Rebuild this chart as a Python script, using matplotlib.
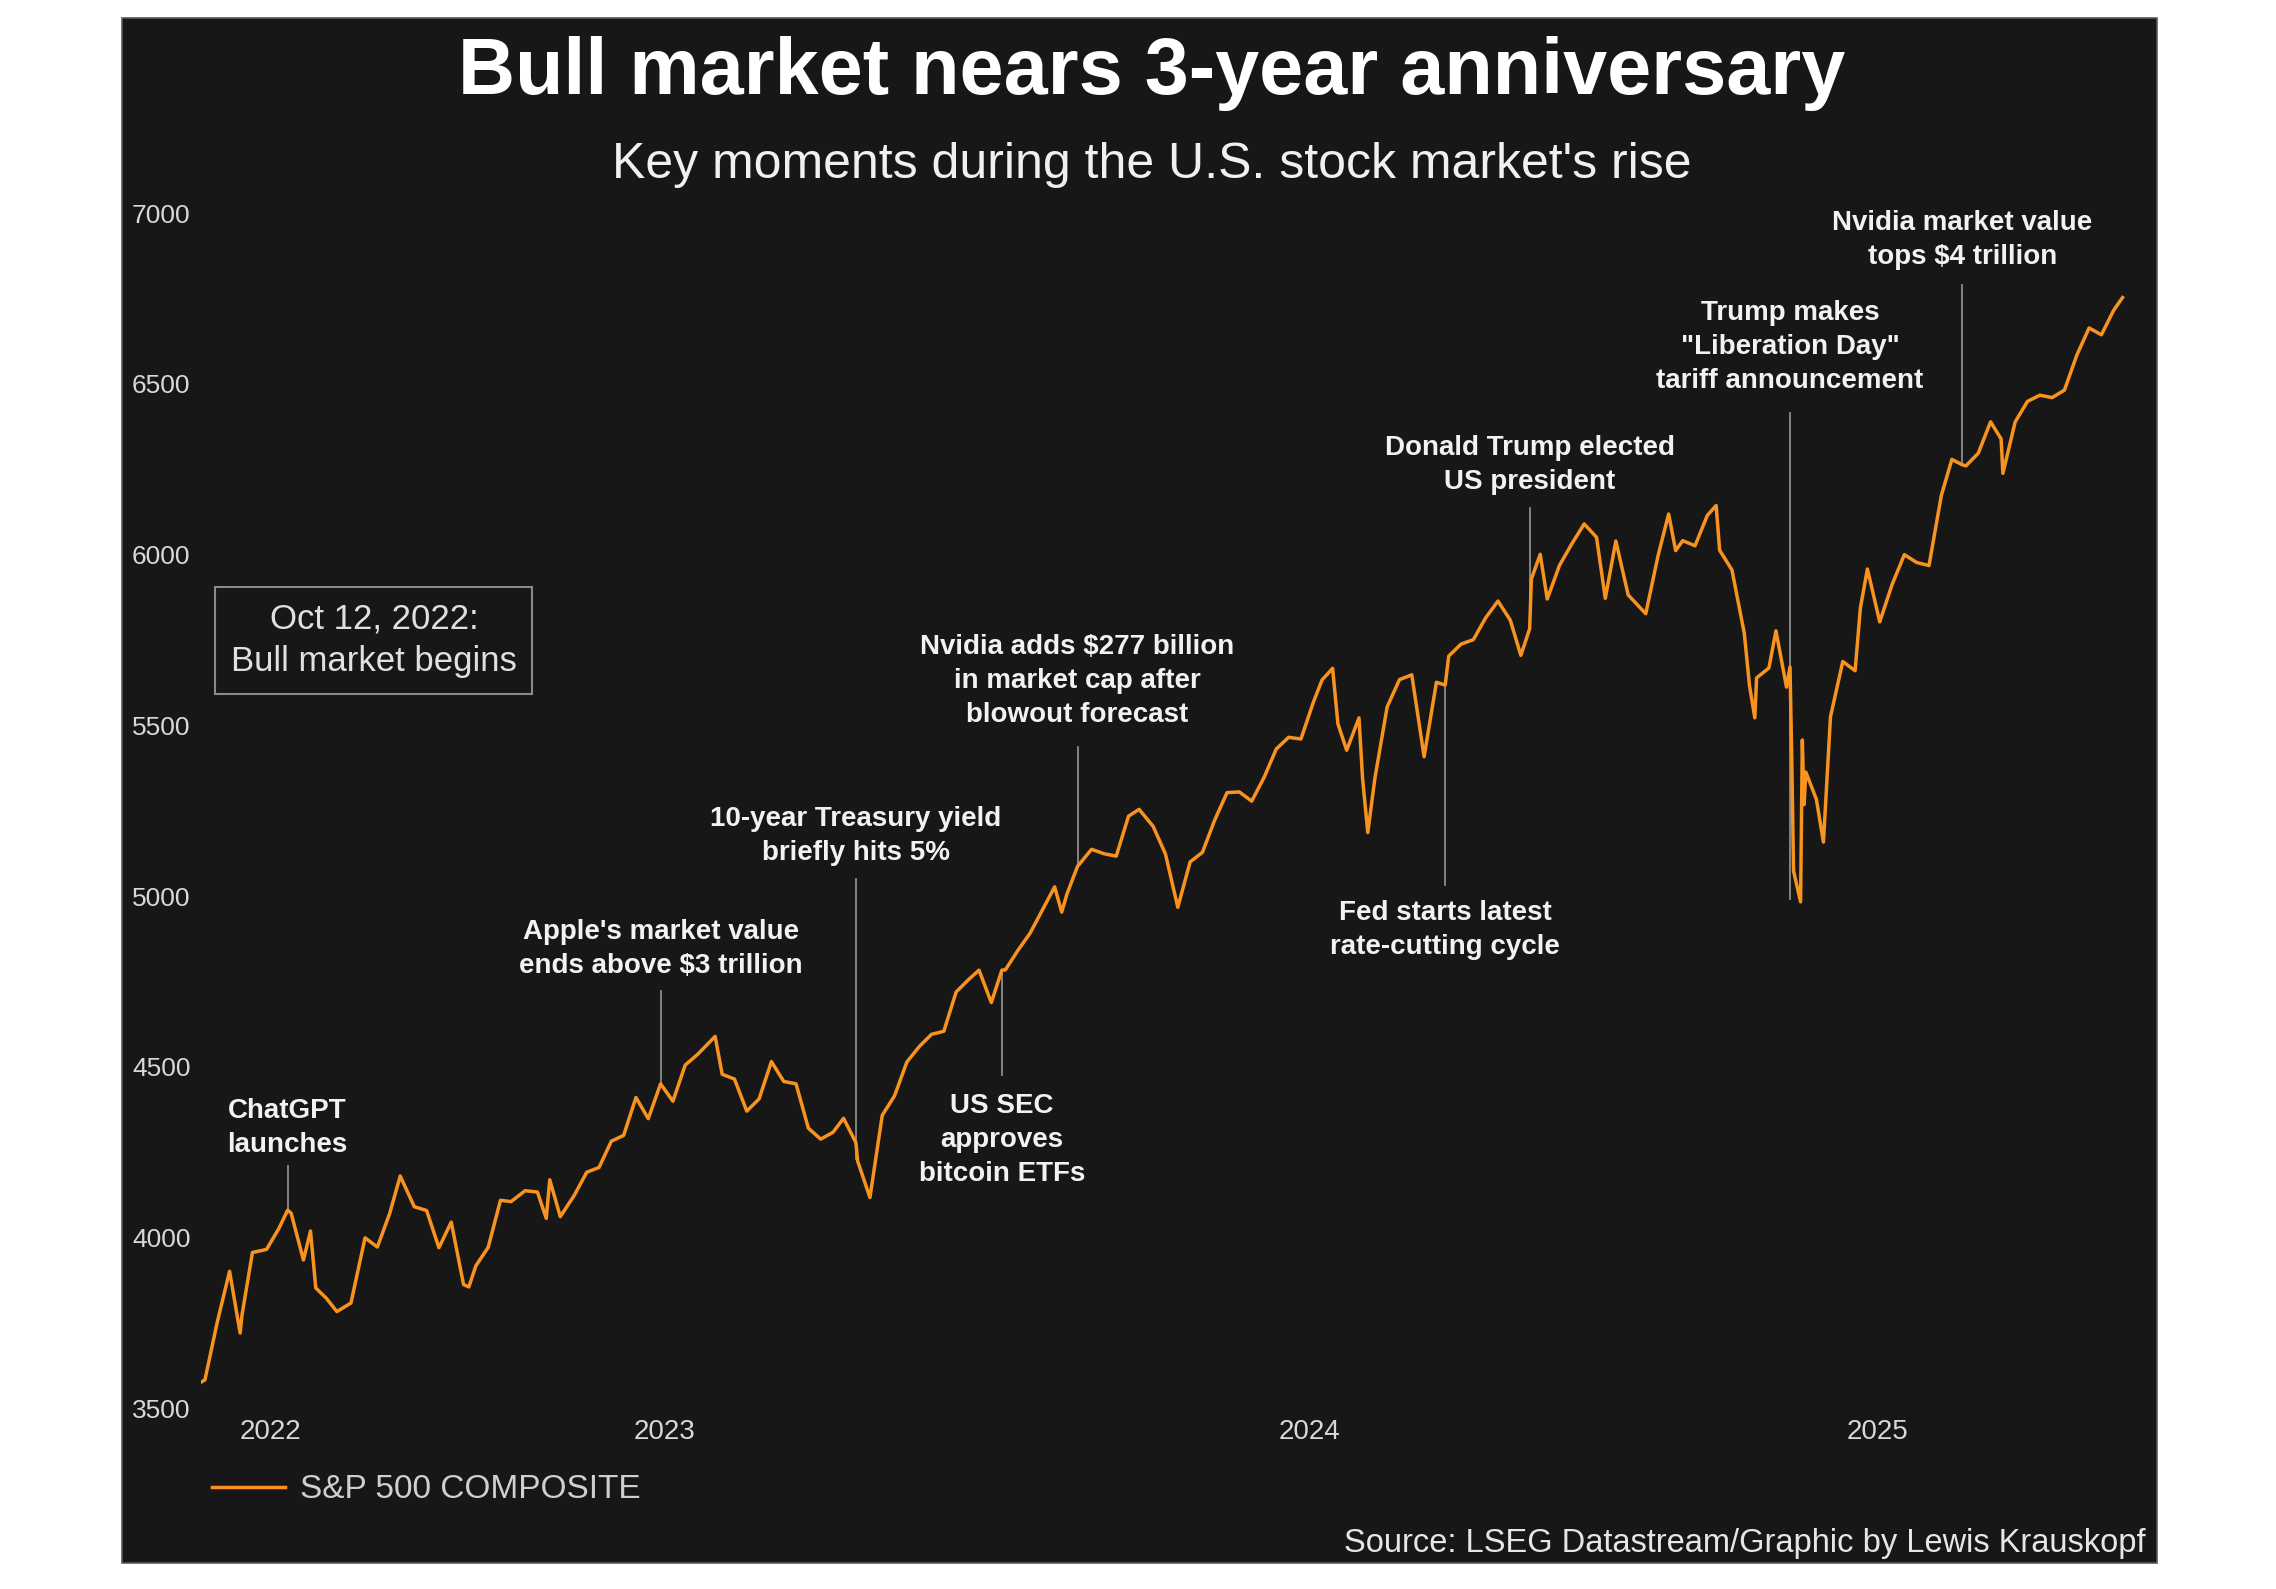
import pandas as pd
import matplotlib
matplotlib.use('Agg')
import matplotlib.pyplot as plt
from matplotlib.patches import Rectangle

plt.rcParams['font.family'] = ['Liberation Sans', 'DejaVu Sans']

# S&P 500 closes (roughly weekly, extra points at swings)
dates = [
    '2022-10-12', '2022-10-14', '2022-10-21', '2022-10-28', '2022-11-03', '2022-11-04',
    '2022-11-10', '2022-11-18', '2022-11-25', '2022-11-30', '2022-12-02', '2022-12-09',
    '2022-12-13', '2022-12-16', '2022-12-22', '2022-12-28', '2023-01-05', '2023-01-13',
    '2023-01-20', '2023-01-27', '2023-02-02', '2023-02-10', '2023-02-17', '2023-02-24',
    '2023-03-03', '2023-03-10', '2023-03-13', '2023-03-17', '2023-03-24', '2023-03-31',
    '2023-04-06', '2023-04-14', '2023-04-21', '2023-04-26', '2023-04-28', '2023-05-04',
    '2023-05-12', '2023-05-19', '2023-05-26', '2023-06-02', '2023-06-09', '2023-06-16',
    '2023-06-23', '2023-06-30', '2023-07-07', '2023-07-14', '2023-07-21', '2023-07-31',
    '2023-08-04', '2023-08-11', '2023-08-18', '2023-08-25', '2023-09-01', '2023-09-08',
    '2023-09-15', '2023-09-22', '2023-09-29', '2023-10-06', '2023-10-12', '2023-10-19',
    '2023-10-20', '2023-10-27', '2023-11-03', '2023-11-10', '2023-11-17', '2023-11-24',
    '2023-12-01', '2023-12-08', '2023-12-15', '2023-12-22', '2023-12-28', '2024-01-04',
    '2024-01-10', '2024-01-12', '2024-01-19', '2024-01-26', '2024-02-02', '2024-02-09',
    '2024-02-13', '2024-02-16', '2024-02-22', '2024-03-01', '2024-03-08', '2024-03-15',
    '2024-03-22', '2024-03-28', '2024-04-05', '2024-04-12', '2024-04-19', '2024-04-26',
    '2024-05-03', '2024-05-10', '2024-05-17', '2024-05-24', '2024-05-31', '2024-06-07',
    '2024-06-14', '2024-06-21', '2024-06-28', '2024-07-05', '2024-07-10', '2024-07-16',
    '2024-07-19', '2024-07-24', '2024-07-31', '2024-08-02', '2024-08-05', '2024-08-09',
    '2024-08-16', '2024-08-23', '2024-08-30', '2024-09-06', '2024-09-13', '2024-09-18',
    '2024-09-20', '2024-09-27', '2024-10-04', '2024-10-11', '2024-10-18', '2024-10-25',
    '2024-10-31', '2024-11-05', '2024-11-06', '2024-11-11', '2024-11-15', '2024-11-22',
    '2024-11-29', '2024-12-06', '2024-12-13', '2024-12-18', '2024-12-24', '2024-12-31',
    '2025-01-10', '2025-01-17', '2025-01-23', '2025-01-27', '2025-01-31', '2025-02-07',
    '2025-02-14', '2025-02-19', '2025-02-21', '2025-02-28', '2025-03-07', '2025-03-10',
    '2025-03-13', '2025-03-14', '2025-03-21', '2025-03-25', '2025-03-31', '2025-04-02',
    '2025-04-03', '2025-04-04', '2025-04-08', '2025-04-09', '2025-04-10', '2025-04-11',
    '2025-04-17', '2025-04-21', '2025-04-25', '2025-05-02', '2025-05-09', '2025-05-12',
    '2025-05-16', '2025-05-23', '2025-05-30', '2025-06-06', '2025-06-13', '2025-06-20',
    '2025-06-27', '2025-07-03', '2025-07-09', '2025-07-11', '2025-07-18', '2025-07-25',
    '2025-07-31', '2025-08-01', '2025-08-08', '2025-08-15', '2025-08-22', '2025-08-29',
    '2025-09-05', '2025-09-12', '2025-09-19', '2025-09-26', '2025-10-03', '2025-10-08',
]
spx = [
    3577, 3583, 3752, 3901, 3720, 3771,
    3956, 3965, 4026, 4080, 4071, 3934,
    4019, 3852, 3822, 3783, 3808, 3999,
    3972, 4070, 4180, 4090, 4079, 3970,
    4045, 3862, 3855, 3917, 3971, 4109,
    4105, 4137, 4133, 4056, 4169, 4061,
    4124, 4191, 4205, 4282, 4299, 4410,
    4348, 4450, 4399, 4505, 4536, 4589,
    4478, 4464, 4370, 4406, 4515, 4457,
    4450, 4320, 4288, 4308, 4349, 4278,
    4224, 4117, 4358, 4415, 4514, 4559,
    4595, 4604, 4719, 4755, 4783, 4688,
    4783, 4784, 4840, 4891, 4959, 5027,
    4953, 5006, 5087, 5137, 5124, 5117,
    5234, 5254, 5204, 5123, 4967, 5100,
    5128, 5223, 5303, 5305, 5278, 5347,
    5431, 5465, 5460, 5567, 5633, 5667,
    5505, 5427, 5522, 5346, 5186, 5344,
    5554, 5634, 5648, 5408, 5626, 5618,
    5703, 5738, 5751, 5815, 5864, 5808,
    5705, 5783, 5929, 6001, 5870, 5969,
    6032, 6090, 6051, 5872, 6040, 5882,
    5827, 5997, 6119, 6012, 6041, 6026,
    6115, 6144, 6013, 5955, 5770, 5615,
    5522, 5639, 5668, 5777, 5612, 5671,
    5397, 5074, 4983, 5457, 5268, 5363,
    5283, 5158, 5525, 5687, 5660, 5844,
    5958, 5803, 5912, 6000, 5977, 5968,
    6173, 6279, 6263, 6260, 6297, 6389,
    6339, 6238, 6389, 6449, 6467, 6460,
    6482, 6584, 6664, 6644, 6716, 6753,
]

y_ticks = [3500, 4000, 4500, 5000, 5500, 6000, 6500, 7000]
year_labels = ['2022', '2023', '2024', '2025']
year_label_dates = ['2022-11-20', '2023-07-02', '2024-07-03', '2025-05-22']

# (date, text, text centre value, leader start, leader end)
events = [
    ('2022-11-30', 'ChatGPT\nlaunches', 4322, 4208, 4080),
    ('2023-06-30', "Apple's market value\nends above $3 trillion", 4844, 4721, 4450),
    ('2023-10-19', '10-year Treasury yield\nbriefly hits 5%', 5175, 5049, 4230),
    ('2024-02-22', 'Nvidia adds $277 billion\nin market cap after\nblowout forecast', 5630, 5438, 5087),
    ('2024-01-10', 'US SEC\napproves\nbitcoin ETFs', 4285, 4477, 4783),
    ('2024-09-18', 'Fed starts latest\nrate-cutting cycle', 4900, 5032, 5618),
    ('2024-11-05', 'Donald Trump elected\nUS president', 6264, 6138, 5850),
    ('2025-04-02', 'Trump makes\n"Liberation Day"\ntariff announcement', 6607, 6415, 4990),
    ('2025-07-09', 'Nvidia market value\ntops $4 trillion', 6923, 6791, 6263),
]

d = pd.to_datetime(dates)

fig = plt.figure(figsize=(22.76, 15.89), dpi=100)
fig.patch.set_facecolor('white')
fig.patches.append(Rectangle((0.0536, 0.0164), 0.8941, 0.9723, transform=fig.transFigure,
                             facecolor='#171717', edgecolor='#5a5a5a', lw=1.2, zorder=-1))

ax = fig.add_axes([0.0885, 0.1138, 0.8487, 0.752])
ax.set_zorder(2)
ax.set_facecolor('none')
ax.plot(d, spx, color='#f7931e', lw=2.5, label='S&P 500 COMPOSITE', zorder=3)
ax.set_ylim(3500, 7000)
ax.set_xlim(pd.Timestamp('2022-10-12'), pd.Timestamp('2025-10-14'))
for s in ax.spines.values():
    s.set_visible(False)

ax.set_yticks(y_ticks)
ax.tick_params(axis='y', length=0, pad=50, labelsize=19, labelcolor='#d8d8d8')
for lab in ax.get_yticklabels():
    lab.set_horizontalalignment('left')
ax.set_xticks(pd.to_datetime(year_label_dates))
ax.set_xticklabels(year_labels)
ax.tick_params(axis='x', length=0, pad=8, labelsize=20, labelcolor='#d8d8d8')

for dt, txt, tv, l0, l1 in events:
    t = pd.Timestamp(dt)
    ax.plot([t, t], [l0, l1], color='#8c8c8c', lw=1.3, zorder=2)
    ax.text(t, tv, txt, ha='center', va='center', color='#f2f2f2', fontsize=20,
            fontweight='bold', linespacing=1.4, zorder=4)

ax.text(pd.Timestamp('2023-01-18'), 5749, 'Oct 12, 2022:\nBull market begins',
        ha='center', va='center', fontsize=25, color='#e0e0e0', linespacing=1.35,
        bbox=dict(boxstyle='square,pad=0.45', fc='none', ec='#8a8a8a', lw=1.5))

leg = ax.legend(loc='center left', bbox_to_anchor=(0.093, 0.0624), bbox_transform=fig.transFigure,
                frameon=False, fontsize=24, handlelength=2.2, handletextpad=0.45,
                borderpad=0, borderaxespad=0)
for tx in leg.get_texts():
    tx.set_color('#cfcfcf')

fig.text(0.506, 0.954, 'Bull market nears 3-year anniversary', ha='center', va='center',
         fontsize=57, fontweight='bold', color='white')
fig.text(0.506, 0.896, "Key moments during the U.S. stock market's rise", ha='center', va='center',
         fontsize=36, color='#f0f0f0')
fig.text(0.9425, 0.0284, 'Source: LSEG Datastream/Graphic by Lewis Krauskopf', ha='right', va='center',
         fontsize=23.5, color='#e6e6e6')

fig.savefig('out.png', dpi=100, facecolor=fig.get_facecolor())
